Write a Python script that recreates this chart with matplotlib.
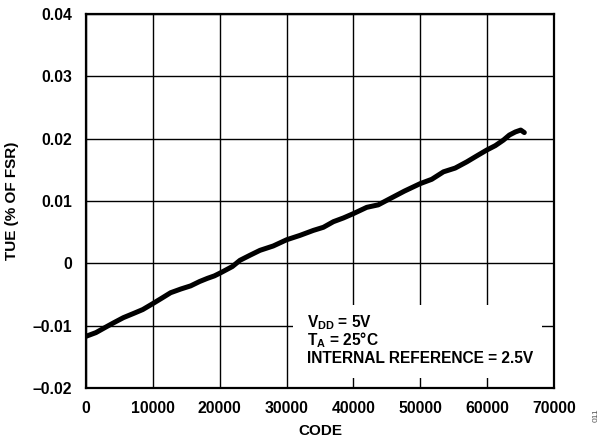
import matplotlib
matplotlib.use('Agg')
import matplotlib.pyplot as plt

plt.rcParams['font.family'] = ['Liberation Sans', 'DejaVu Sans']

# TUE vs code
code = [0, 1500, 3000, 4190, 5600, 7180, 8500, 9920, 11300, 12660, 14200,
        15660, 17000, 18150, 19200, 20140, 21890, 23030, 24500, 26020, 28000,
        30010, 32000, 34000, 35500, 37000, 38500, 40000, 41980, 43700, 45470,
        47600, 49960, 51700, 53450, 55200, 56940, 58500, 59930, 61200, 62420,
        63300, 64200, 65000, 65535]
tue = [-0.0117, -0.0111, -0.0102, -0.0095, -0.0087, -0.0080, -0.0074, -0.0065,
       -0.0056, -0.0047, -0.0041, -0.0036, -0.0029, -0.0024, -0.0020, -0.0015,
       -0.0005, 0.0005, 0.0013, 0.0021, 0.0028, 0.0038, 0.0045, 0.0053, 0.0058,
       0.0067, 0.0073, 0.0080, 0.0090, 0.0094, 0.0104, 0.0116, 0.0128, 0.0135,
       0.0147, 0.0153, 0.0163, 0.0173, 0.0182, 0.0189, 0.0198, 0.0206, 0.0211,
       0.0214, 0.0210]

xticks = [0, 10000, 20000, 30000, 40000, 50000, 60000, 70000]
yticks = [-0.02, -0.01, 0, 0.01, 0.02, 0.03, 0.04]
ylabels = ['\u20130.02', '\u20130.01', '0', '0.01', '0.02', '0.03', '0.04']
notes = ['V$_{\\mathregular{DD}}$ = 5V', 'T$_{\\mathregular{A}}$ = 25\u00b0C',
         'INTERNAL REFERENCE = 2.5V']

fig = plt.figure(figsize=(6.05, 4.42), dpi=100)
ax = fig.add_axes([0.142, 0.122, 0.774, 0.846])

ax.plot(code, tue, color='black', lw=3.6, solid_capstyle='round', zorder=3)

ax.set_xlim(0, 70000)
ax.set_ylim(-0.02, 0.04)
ax.set_xticks(xticks)
ax.set_yticks(yticks)
ax.set_xticklabels([str(t) for t in xticks], fontweight='bold', fontsize=11.3)
ax.set_yticklabels(ylabels, fontweight='bold', fontsize=11.3)
ax.tick_params(axis='x', length=0, pad=9)
ax.tick_params(axis='y', length=0, pad=10)
ax.grid(True, color='black', lw=1.0)
ax.set_axisbelow(True)
for s in ax.spines.values():
    s.set_linewidth(1.6)

ax.set_xlabel('CODE', fontweight='bold', fontsize=11, labelpad=6)
ax.set_ylabel('TUE (% OF FSR)', fontweight='bold', fontsize=11, labelpad=10)

# white box behind the conditions text
box = plt.Rectangle((30960, -0.0184), 37240, 0.01171, facecolor='white',
                    edgecolor='none', zorder=2)
ax.add_patch(box)
for i, t in enumerate(notes):
    ax.text(33050, -0.0102 - i * 0.00289, t, fontweight='bold', fontsize=11.2,
            va='baseline', ha='left', zorder=4)

fig.text(0.985, 0.06, '011', rotation=90, fontsize=6, color='#555555',
         ha='center', va='center')

fig.savefig('out.png', dpi=100)
